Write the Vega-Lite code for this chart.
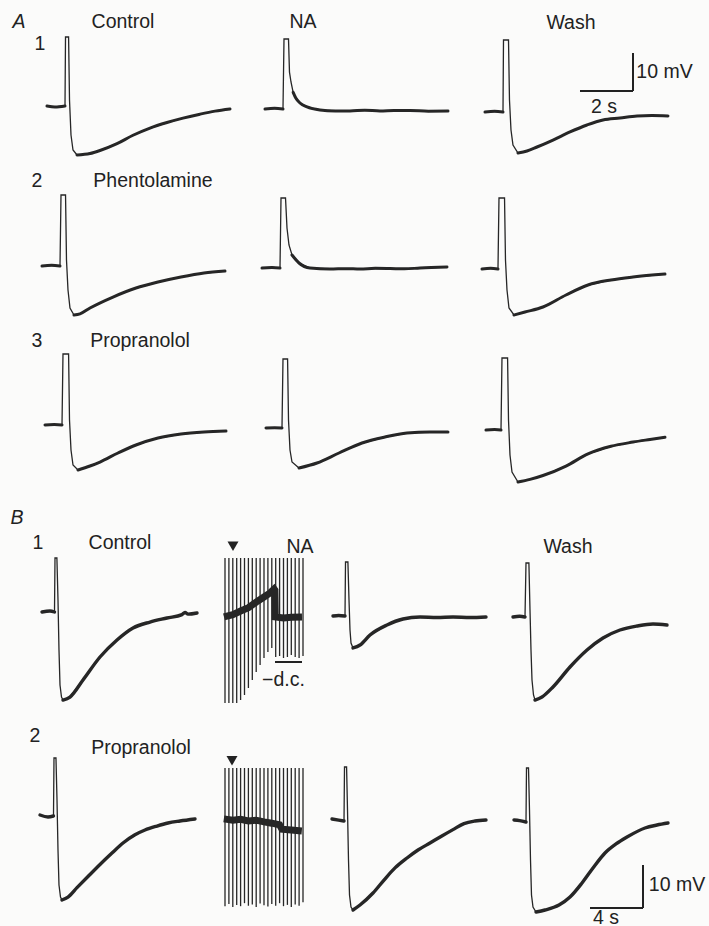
{
"$schema": "https://vega.github.io/schema/vega-lite/v6.json",
"background": "#fbfbfa",
"padding": 0,
"spacing": 0,
"bounds": "full",
"config": {"view": {"stroke": null}},
"datasets": {
"trace": [
{"c":"A1c1","s":"pre","t":0.075,"v":0},{"c":"A1c1","s":"pre","t":0.377,"v":-0.26},{"c":"A1c1","s":"pre","t":0.755,"v":0},
{"c":"A1c1","s":"spike","t":0.774,"v":18.16},{"c":"A1c1","s":"spike","t":0.89,"v":18.16},{"c":"A1c1","s":"spike","t":0.925,"v":1.58},{"c":"A1c1","s":"spike","t":0.981,"v":-7.63},{"c":"A1c1","s":"spike","t":1.057,"v":-11.58},
{"c":"A1c1","s":"post","t":1.208,"v":-12.89},{"c":"A1c1","s":"post","t":1.698,"v":-12.5},{"c":"A1c1","s":"post","t":2.075,"v":-11.7},{"c":"A1c1","s":"post","t":2.717,"v":-9.9},{"c":"A1c1","s":"post","t":3.321,"v":-7.7},{"c":"A1c1","s":"post","t":3.962,"v":-5.8},{"c":"A1c1","s":"post","t":4.604,"v":-4.35},{"c":"A1c1","s":"post","t":5.208,"v":-3.2},{"c":"A1c1","s":"post","t":5.849,"v":-2.15},{"c":"A1c1","s":"post","t":6.415,"v":-1.35},{"c":"A1c1","s":"post","t":6.981,"v":-0.79},

{"c":"A1c2","s":"pre","t":0.038,"v":-0.79},{"c":"A1c2","s":"pre","t":0.4,"v":-0.6},{"c":"A1c2","s":"pre","t":0.717,"v":-0.79},
{"c":"A1c2","s":"spike","t":0.755,"v":17.63},{"c":"A1c2","s":"spike","t":0.925,"v":17.63},{"c":"A1c2","s":"spike","t":0.962,"v":8.9},{"c":"A1c2","s":"spike","t":1.019,"v":6.32},
{"c":"A1c2","s":"post","t":1.1,"v":3.6},{"c":"A1c2","s":"post","t":1.2,"v":2.1},{"c":"A1c2","s":"post","t":1.358,"v":0.79},{"c":"A1c2","s":"post","t":1.623,"v":-0.26},{"c":"A1c2","s":"post","t":2.113,"v":-1.05},{"c":"A1c2","s":"post","t":2.7,"v":-1.3},{"c":"A1c2","s":"post","t":3.245,"v":-1.32},{"c":"A1c2","s":"post","t":3.8,"v":-1.1},{"c":"A1c2","s":"post","t":4.377,"v":-1.32},{"c":"A1c2","s":"post","t":4.9,"v":-1.2},{"c":"A1c2","s":"post","t":5.509,"v":-1.18},{"c":"A1c2","s":"post","t":6.2,"v":-1.35},{"c":"A1c2","s":"post","t":6.943,"v":-1.32},

{"c":"A1c3","s":"pre","t":0.038,"v":-1.58},{"c":"A1c3","s":"pre","t":0.4,"v":-1.4},{"c":"A1c3","s":"pre","t":0.717,"v":-1.58},
{"c":"A1c3","s":"spike","t":0.736,"v":17.37},{"c":"A1c3","s":"spike","t":0.925,"v":17.37},{"c":"A1c3","s":"spike","t":0.962,"v":1.58},{"c":"A1c3","s":"spike","t":1.019,"v":-6.32},{"c":"A1c3","s":"spike","t":1.094,"v":-10.26},
{"c":"A1c3","s":"post","t":1.283,"v":-12.37},{"c":"A1c3","s":"post","t":1.623,"v":-11.84},{"c":"A1c3","s":"post","t":2.0,"v":-10.79},{"c":"A1c3","s":"post","t":2.604,"v":-8.95},{"c":"A1c3","s":"post","t":3.245,"v":-6.84},{"c":"A1c3","s":"post","t":3.887,"v":-5.0},{"c":"A1c3","s":"post","t":4.491,"v":-3.68},{"c":"A1c3","s":"post","t":5.132,"v":-3.16},{"c":"A1c3","s":"post","t":5.774,"v":-2.63},{"c":"A1c3","s":"post","t":6.34,"v":-2.5},{"c":"A1c3","s":"post","t":6.943,"v":-2.63},

{"c":"A2c1","s":"pre","t":-0.113,"v":0},{"c":"A2c1","s":"pre","t":0.25,"v":0.2},{"c":"A2c1","s":"pre","t":0.566,"v":0},
{"c":"A2c1","s":"spike","t":0.604,"v":18.68},{"c":"A2c1","s":"spike","t":0.775,"v":18.68},{"c":"A2c1","s":"spike","t":0.811,"v":1.58},{"c":"A2c1","s":"spike","t":0.868,"v":-6.32},{"c":"A2c1","s":"spike","t":0.943,"v":-11.05},
{"c":"A2c1","s":"post","t":1.094,"v":-12.89},{"c":"A2c1","s":"post","t":1.321,"v":-12.6},{"c":"A2c1","s":"post","t":1.698,"v":-11.05},{"c":"A2c1","s":"post","t":2.566,"v":-8.16},{"c":"A2c1","s":"post","t":3.434,"v":-5.79},{"c":"A2c1","s":"post","t":4.264,"v":-4.21},{"c":"A2c1","s":"post","t":5.132,"v":-2.89},{"c":"A2c1","s":"post","t":6.0,"v":-1.84},{"c":"A2c1","s":"post","t":6.792,"v":-1.32},

{"c":"A2c2","s":"pre","t":-0.075,"v":-0.53},{"c":"A2c2","s":"pre","t":0.3,"v":-0.4},{"c":"A2c2","s":"pre","t":0.604,"v":-0.53},
{"c":"A2c2","s":"spike","t":0.642,"v":17.89},{"c":"A2c2","s":"spike","t":0.812,"v":17.89},{"c":"A2c2","s":"spike","t":0.868,"v":10.0},{"c":"A2c2","s":"spike","t":0.943,"v":5.53},
{"c":"A2c2","s":"post","t":1.057,"v":2.89},{"c":"A2c2","s":"post","t":1.321,"v":0.79},{"c":"A2c2","s":"post","t":1.736,"v":-0.53},{"c":"A2c2","s":"post","t":2.491,"v":-0.79},{"c":"A2c2","s":"post","t":3.1,"v":-0.7},{"c":"A2c2","s":"post","t":3.623,"v":-0.79},{"c":"A2c2","s":"post","t":4.2,"v":-0.6},{"c":"A2c2","s":"post","t":4.755,"v":-0.66},{"c":"A2c2","s":"post","t":5.3,"v":-0.75},{"c":"A2c2","s":"post","t":5.887,"v":-0.53},{"c":"A2c2","s":"post","t":6.906,"v":-0.26},

{"c":"A2c3","s":"pre","t":-0.075,"v":-0.79},{"c":"A2c3","s":"pre","t":0.25,"v":-0.6},{"c":"A2c3","s":"pre","t":0.528,"v":-0.79},
{"c":"A2c3","s":"spike","t":0.566,"v":17.89},{"c":"A2c3","s":"spike","t":0.775,"v":17.89},{"c":"A2c3","s":"spike","t":0.811,"v":1.58},{"c":"A2c3","s":"spike","t":0.868,"v":-6.32},{"c":"A2c3","s":"spike","t":0.943,"v":-11.05},
{"c":"A2c3","s":"post","t":1.132,"v":-12.89},{"c":"A2c3","s":"post","t":1.547,"v":-12.11},{"c":"A2c3","s":"post","t":2.226,"v":-10.79},{"c":"A2c3","s":"post","t":3.094,"v":-7.63},{"c":"A2c3","s":"post","t":3.925,"v":-5.0},{"c":"A2c3","s":"post","t":4.792,"v":-3.68},{"c":"A2c3","s":"post","t":5.623,"v":-2.89},{"c":"A2c3","s":"post","t":6.83,"v":-2.11},

{"c":"A3c1","s":"pre","t":0,"v":0},{"c":"A3c1","s":"pre","t":0.35,"v":0.1},{"c":"A3c1","s":"pre","t":0.642,"v":0},
{"c":"A3c1","s":"spike","t":0.679,"v":18.68},{"c":"A3c1","s":"spike","t":0.89,"v":18.68},{"c":"A3c1","s":"spike","t":0.925,"v":1.32},{"c":"A3c1","s":"spike","t":0.981,"v":-6.58},{"c":"A3c1","s":"spike","t":1.057,"v":-10.53},
{"c":"A3c1","s":"post","t":1.245,"v":-11.84},{"c":"A3c1","s":"post","t":1.698,"v":-10.79},{"c":"A3c1","s":"post","t":2.075,"v":-9.74},{"c":"A3c1","s":"post","t":2.755,"v":-7.37},{"c":"A3c1","s":"post","t":3.434,"v":-5.26},{"c":"A3c1","s":"post","t":4.264,"v":-3.42},{"c":"A3c1","s":"post","t":5.132,"v":-2.37},{"c":"A3c1","s":"post","t":6.0,"v":-1.84},{"c":"A3c1","s":"post","t":6.83,"v":-1.58},

{"c":"A3c2","s":"pre","t":0.075,"v":-0.79},{"c":"A3c2","s":"pre","t":0.4,"v":-0.7},{"c":"A3c2","s":"pre","t":0.679,"v":-0.79},
{"c":"A3c2","s":"spike","t":0.717,"v":17.37},{"c":"A3c2","s":"spike","t":0.89,"v":17.37},{"c":"A3c2","s":"spike","t":0.925,"v":1.32},{"c":"A3c2","s":"spike","t":0.981,"v":-6.58},{"c":"A3c2","s":"spike","t":1.057,"v":-9.74},
{"c":"A3c2","s":"post","t":1.321,"v":-11.32},{"c":"A3c2","s":"post","t":2.0,"v":-10.0},{"c":"A3c2","s":"post","t":2.83,"v":-7.37},{"c":"A3c2","s":"post","t":3.698,"v":-4.74},{"c":"A3c2","s":"post","t":4.566,"v":-3.16},{"c":"A3c2","s":"post","t":5.396,"v":-2.11},{"c":"A3c2","s":"post","t":6.264,"v":-1.84},{"c":"A3c2","s":"post","t":6.943,"v":-1.84},

{"c":"A3c3","s":"pre","t":0.075,"v":-1.32},{"c":"A3c3","s":"pre","t":0.4,"v":-1.2},{"c":"A3c3","s":"pre","t":0.642,"v":-1.32},
{"c":"A3c3","s":"spike","t":0.679,"v":17.63},{"c":"A3c3","s":"spike","t":0.89,"v":17.63},{"c":"A3c3","s":"spike","t":0.925,"v":1.32},{"c":"A3c3","s":"spike","t":0.981,"v":-7.89},{"c":"A3c3","s":"spike","t":1.057,"v":-12.37},
{"c":"A3c3","s":"post","t":1.283,"v":-15.0},{"c":"A3c3","s":"post","t":1.736,"v":-14.3},{"c":"A3c3","s":"post","t":2.226,"v":-13.3},{"c":"A3c3","s":"post","t":3.094,"v":-10.8},{"c":"A3c3","s":"post","t":3.925,"v":-7.6},{"c":"A3c3","s":"post","t":4.792,"v":-5.6},{"c":"A3c3","s":"post","t":5.623,"v":-4.5},{"c":"A3c3","s":"post","t":6.264,"v":-3.8},{"c":"A3c3","s":"post","t":6.83,"v":-3.2},

{"c":"B1c1","s":"pre","t":0.075,"v":0},{"c":"B1c1","s":"pre","t":0.679,"v":0.23},{"c":"B1c1","s":"pre","t":1.019,"v":0},
{"c":"B1c1","s":"spike","t":1.057,"v":12.56},{"c":"B1c1","s":"spike","t":1.2,"v":12.56},{"c":"B1c1","s":"spike","t":1.283,"v":2.79},{"c":"B1c1","s":"spike","t":1.358,"v":-8.84},{"c":"B1c1","s":"spike","t":1.434,"v":-16.98},{"c":"B1c1","s":"spike","t":1.547,"v":-19.77},
{"c":"B1c1","s":"post","t":1.66,"v":-20.47},{"c":"B1c1","s":"post","t":2.189,"v":-19.77},{"c":"B1c1","s":"post","t":3.17,"v":-15.81},{"c":"B1c1","s":"post","t":4.453,"v":-10.47},{"c":"B1c1","s":"post","t":5.736,"v":-6.51},{"c":"B1c1","s":"post","t":6.943,"v":-3.72},{"c":"B1c1","s":"post","t":8.226,"v":-2.33},{"c":"B1c1","s":"post","t":9.509,"v":-1.4},{"c":"B1c1","s":"post","t":10.642,"v":-0.6},{"c":"B1c1","s":"post","t":10.868,"v":-0.1},{"c":"B1c1","s":"post","t":11.094,"v":-0.5},{"c":"B1c1","s":"post","t":11.774,"v":-0.23},

{"c":"B1c2","s":"band","t":-0.26,"v":-1.16},{"c":"B1c2","s":"band","t":2,"v":-0.6},{"c":"B1c2","s":"band","t":4,"v":0.23},{"c":"B1c2","s":"band","t":6,"v":1.0},{"c":"B1c2","s":"band","t":8,"v":2.3},{"c":"B1c2","s":"band","t":10,"v":3.5},{"c":"B1c2","s":"band","t":11.5,"v":4.4},{"c":"B1c2","s":"band","t":12.6,"v":5.35},{"c":"B1c2","s":"band","t":12.8,"v":5.1},{"c":"B1c2","s":"band","t":12.9,"v":-1.16},{"c":"B1c2","s":"band","t":15,"v":-1.4},{"c":"B1c2","s":"band","t":17,"v":-1.2},{"c":"B1c2","s":"band","t":19.74,"v":-1.16},

{"c":"B1c3","s":"pre","t":0.075,"v":-0.93},{"c":"B1c3","s":"pre","t":0.5,"v":-0.8},{"c":"B1c3","s":"pre","t":0.981,"v":-0.93},
{"c":"B1c3","s":"spike","t":1.019,"v":11.63},{"c":"B1c3","s":"spike","t":1.2,"v":11.63},{"c":"B1c3","s":"spike","t":1.283,"v":2.79},{"c":"B1c3","s":"spike","t":1.358,"v":-4.19},{"c":"B1c3","s":"spike","t":1.434,"v":-7.21},
{"c":"B1c3","s":"post","t":1.585,"v":-8.37},{"c":"B1c3","s":"post","t":2.113,"v":-7.67},{"c":"B1c3","s":"post","t":2.868,"v":-5.35},{"c":"B1c3","s":"post","t":4.151,"v":-3.02},{"c":"B1c3","s":"post","t":5.358,"v":-1.63},{"c":"B1c3","s":"post","t":6.642,"v":-1.16},{"c":"B1c3","s":"post","t":7.925,"v":-1.28},{"c":"B1c3","s":"post","t":9.132,"v":-1.16},{"c":"B1c3","s":"post","t":10.415,"v":-1.28},{"c":"B1c3","s":"post","t":11.623,"v":-1.16},

{"c":"B1c4","s":"pre","t":0,"v":-1.16},{"c":"B1c4","s":"pre","t":0.5,"v":-1.0},{"c":"B1c4","s":"pre","t":0.906,"v":-1.16},
{"c":"B1c4","s":"spike","t":0.981,"v":11.4},{"c":"B1c4","s":"spike","t":1.2,"v":11.4},{"c":"B1c4","s":"spike","t":1.283,"v":0.47},{"c":"B1c4","s":"spike","t":1.358,"v":-8.84},{"c":"B1c4","s":"spike","t":1.434,"v":-15.81},{"c":"B1c4","s":"spike","t":1.547,"v":-19.3},
{"c":"B1c4","s":"post","t":1.66,"v":-20.47},{"c":"B1c4","s":"post","t":2.189,"v":-19.77},{"c":"B1c4","s":"post","t":3.019,"v":-17.44},{"c":"B1c4","s":"post","t":4.302,"v":-12.79},{"c":"B1c4","s":"post","t":5.585,"v":-8.84},{"c":"B1c4","s":"post","t":6.792,"v":-6.05},{"c":"B1c4","s":"post","t":8.075,"v":-4.19},{"c":"B1c4","s":"post","t":9.358,"v":-3.26},{"c":"B1c4","s":"post","t":10.566,"v":-2.79},{"c":"B1c4","s":"post","t":11.623,"v":-3.02},

{"c":"B2c1","s":"pre","t":-0.075,"v":0},{"c":"B2c1","s":"pre","t":0.528,"v":-0.47},{"c":"B2c1","s":"pre","t":0.943,"v":-0.23},
{"c":"B2c1","s":"spike","t":0.981,"v":13.26},{"c":"B2c1","s":"spike","t":1.13,"v":13.26},{"c":"B2c1","s":"spike","t":1.208,"v":3.49},{"c":"B2c1","s":"spike","t":1.283,"v":-8.14},{"c":"B2c1","s":"spike","t":1.358,"v":-16.28},{"c":"B2c1","s":"spike","t":1.472,"v":-19.07},
{"c":"B2c1","s":"post","t":1.585,"v":-19.77},{"c":"B2c1","s":"post","t":2.038,"v":-19.07},{"c":"B2c1","s":"post","t":2.717,"v":-16.9},{"c":"B2c1","s":"post","t":3.547,"v":-14.3},{"c":"B2c1","s":"post","t":4.453,"v":-11.5},{"c":"B2c1","s":"post","t":5.358,"v":-8.84},{"c":"B2c1","s":"post","t":6.189,"v":-6.51},{"c":"B2c1","s":"post","t":7.094,"v":-4.6},{"c":"B2c1","s":"post","t":7.849,"v":-3.49},{"c":"B2c1","s":"post","t":8.755,"v":-2.56},{"c":"B2c1","s":"post","t":9.585,"v":-1.86},{"c":"B2c1","s":"post","t":10.491,"v":-1.4},{"c":"B2c1","s":"post","t":11.623,"v":-0.93},

{"c":"B2c2","s":"band","t":-0.3,"v":-0.9},{"c":"B2c2","s":"band","t":2,"v":-1.2},{"c":"B2c2","s":"band","t":4,"v":-1.0},{"c":"B2c2","s":"band","t":6,"v":-1.4},{"c":"B2c2","s":"band","t":8,"v":-1.2},{"c":"B2c2","s":"band","t":10,"v":-1.6},{"c":"B2c2","s":"band","t":12,"v":-1.9},{"c":"B2c2","s":"band","t":14,"v":-2.3},{"c":"B2c2","s":"band","t":14.6,"v":-3.3},{"c":"B2c2","s":"band","t":17,"v":-3.5},{"c":"B2c2","s":"band","t":19.7,"v":-3.7},

{"c":"B2c3","s":"pre","t":0,"v":-0.93},{"c":"B2c3","s":"pre","t":0.5,"v":-1.2},{"c":"B2c3","s":"pre","t":0.906,"v":-1.4},
{"c":"B2c3","s":"spike","t":0.943,"v":11.16},{"c":"B2c3","s":"spike","t":1.1,"v":11.16},{"c":"B2c3","s":"spike","t":1.17,"v":1.16},{"c":"B2c3","s":"spike","t":1.245,"v":-10.47},{"c":"B2c3","s":"spike","t":1.321,"v":-18.6},{"c":"B2c3","s":"spike","t":1.434,"v":-21.4},
{"c":"B2c3","s":"post","t":1.585,"v":-22.09},{"c":"B2c3","s":"post","t":2.113,"v":-20.93},{"c":"B2c3","s":"post","t":3.094,"v":-18.14},{"c":"B2c3","s":"post","t":3.925,"v":-15.12},{"c":"B2c3","s":"post","t":4.755,"v":-12.3},{"c":"B2c3","s":"post","t":5.66,"v":-10.0},{"c":"B2c3","s":"post","t":6.491,"v":-8.14},{"c":"B2c3","s":"post","t":7.396,"v":-6.51},{"c":"B2c3","s":"post","t":8.226,"v":-5.0},{"c":"B2c3","s":"post","t":9.132,"v":-3.4},{"c":"B2c3","s":"post","t":9.962,"v":-2.0},{"c":"B2c3","s":"post","t":10.792,"v":-1.4},{"c":"B2c3","s":"post","t":11.623,"v":-1.16},

{"c":"B2c4","s":"pre","t":0.075,"v":-1.16},{"c":"B2c4","s":"pre","t":0.5,"v":-1.3},{"c":"B2c4","s":"pre","t":0.981,"v":-1.63},
{"c":"B2c4","s":"spike","t":1.019,"v":10.93},{"c":"B2c4","s":"spike","t":1.17,"v":10.93},{"c":"B2c4","s":"spike","t":1.245,"v":1.16},{"c":"B2c4","s":"spike","t":1.321,"v":-10.47},{"c":"B2c4","s":"spike","t":1.396,"v":-18.6},{"c":"B2c4","s":"spike","t":1.509,"v":-21.4},
{"c":"B2c4","s":"post","t":1.736,"v":-22.56},{"c":"B2c4","s":"post","t":2.415,"v":-22.09},{"c":"B2c4","s":"post","t":3.472,"v":-20.93},{"c":"B2c4","s":"post","t":4.302,"v":-19.07},{"c":"B2c4","s":"post","t":5.208,"v":-15.81},{"c":"B2c4","s":"post","t":6.038,"v":-12.33},{"c":"B2c4","s":"post","t":6.943,"v":-8.84},{"c":"B2c4","s":"post","t":7.774,"v":-6.74},{"c":"B2c4","s":"post","t":8.604,"v":-5.12},{"c":"B2c4","s":"post","t":9.962,"v":-3.02},{"c":"B2c4","s":"post","t":10.868,"v":-2.33},{"c":"B2c4","s":"post","t":11.698,"v":-1.86}
],
"stim": [
{"c":"B1c2","t":0,"v":-21.16,"v2":12.56},{"c":"B1c2","t":1,"v":-21.16,"v2":12.56},{"c":"B1c2","t":2,"v":-21.16,"v2":12.56},{"c":"B1c2","t":3,"v":-21.16,"v2":12.56},{"c":"B1c2","t":4,"v":-20.47,"v2":12.56},{"c":"B1c2","t":5,"v":-19.3,"v2":12.56},{"c":"B1c2","t":6,"v":-17.67,"v2":12.56},{"c":"B1c2","t":7,"v":-15.81,"v2":12.56},{"c":"B1c2","t":8,"v":-13.95,"v2":12.56},{"c":"B1c2","t":9,"v":-12.33,"v2":12.56},{"c":"B1c2","t":10,"v":-10.7,"v2":12.56},{"c":"B1c2","t":11,"v":-9.3,"v2":12.56},{"c":"B1c2","t":12,"v":-8.37,"v2":12.56},{"c":"B1c2","t":13,"v":-10.47,"v2":12.56},{"c":"B1c2","t":14,"v":-10.23,"v2":12.56},{"c":"B1c2","t":15,"v":-10.7,"v2":12.56},{"c":"B1c2","t":16,"v":-10.47,"v2":12.56},{"c":"B1c2","t":17,"v":-10.0,"v2":12.56},{"c":"B1c2","t":18,"v":-10.47,"v2":12.56},{"c":"B1c2","t":19,"v":-10.7,"v2":12.56},{"c":"B1c2","t":20,"v":-10.23,"v2":12.56},
{"c":"B2c2","t":0,"v":-21.2,"v2":10.93},{"c":"B2c2","t":1,"v":-20.7,"v2":10.93},{"c":"B2c2","t":2,"v":-21.4,"v2":10.93},{"c":"B2c2","t":3,"v":-20.9,"v2":10.93},{"c":"B2c2","t":4,"v":-21.2,"v2":10.93},{"c":"B2c2","t":5,"v":-20.5,"v2":10.93},{"c":"B2c2","t":6,"v":-21.1,"v2":10.93},{"c":"B2c2","t":7,"v":-20.8,"v2":10.93},{"c":"B2c2","t":8,"v":-21.4,"v2":10.93},{"c":"B2c2","t":9,"v":-20.6,"v2":10.93},{"c":"B2c2","t":10,"v":-21.0,"v2":10.93},{"c":"B2c2","t":11,"v":-21.3,"v2":10.93},{"c":"B2c2","t":12,"v":-20.7,"v2":10.93},{"c":"B2c2","t":13,"v":-21.1,"v2":10.93},{"c":"B2c2","t":14,"v":-20.5,"v2":10.93},{"c":"B2c2","t":15,"v":-21.2,"v2":10.93},{"c":"B2c2","t":16,"v":-20.9,"v2":10.93},{"c":"B2c2","t":17,"v":-21.4,"v2":10.93},{"c":"B2c2","t":18,"v":-20.8,"v2":10.93},{"c":"B2c2","t":19,"v":-21.1,"v2":10.93},{"c":"B2c2","t":20,"v":-20.3,"v2":10.93}
],
"labels": [
{"c":"A1c1","k":"it","t":-0.981,"v":22.1,"label":"A"},
{"c":"A1c1","k":"reg","t":-0.189,"v":16.32,"label":"1"},
{"c":"A1c1","k":"reg","t":2.943,"v":22.1,"label":"Control"},
{"c":"A1c2","k":"reg","t":1.472,"v":22.1,"label":"NA"},
{"c":"A1c3","k":"reg","t":3.283,"v":21.84,"label":"Wash"},
{"c":"A1c3","k":"reg","t":6.811,"v":8.95,"label":"10 mV"},
{"c":"A1c3","k":"reg","t":4.528,"v":-0.26,"label":"2 s"},
{"c":"A2c1","k":"reg","t":-0.302,"v":22.4,"label":"2"},
{"c":"A2c1","k":"reg","t":4.075,"v":22.4,"label":"Phentolamine"},
{"c":"A3c1","k":"reg","t":-0.302,"v":22.1,"label":"3"},
{"c":"A3c1","k":"reg","t":3.585,"v":22.1,"label":"Propranolol"},
{"c":"B1c1","k":"it","t":-1.811,"v":21.86,"label":"B"},
{"c":"B1c1","k":"reg","t":-0.226,"v":16.05,"label":"1"},
{"c":"B1c1","k":"reg","t":5.962,"v":16.05,"label":"Control"},
{"c":"B1c2","k":"reg","t":19.23,"v":15.1,"label":"NA"},
{"c":"B1c2","k":"reg","t":14.99,"v":-15.81,"label":"\u2212d.c."},
{"c":"B1c4","k":"reg","t":4.151,"v":15.12,"label":"Wash"},
{"c":"B2c1","k":"reg","t":-0.453,"v":18.3,"label":"2"},
{"c":"B2c1","k":"reg","t":7.547,"v":15.58,"label":"Propranolol"},
{"c":"B2c4","k":"reg","t":12.377,"v":-16.28,"label":"10 mV"},
{"c":"B2c4","k":"reg","t":7.019,"v":-23.9,"label":"4 s"}
],
"bars": [
{"c":"A1c3","t":5.623,"v":3.95,"t2":5.623,"v2":13.95},
{"c":"A1c3","t":3.623,"v":3.95,"t2":5.623,"v2":3.95},
{"c":"B2c4","t":9.811,"v":-21.63,"t2":9.811,"v2":-11.63},
{"c":"B2c4","t":5.811,"v":-21.63,"t2":9.811,"v2":-21.63},
{"c":"B1c2","t":12.82,"v":-11.63,"t2":19.74,"v2":-11.63}
],
"arrows": [
{"c":"B1c2","t":2.05,"v":15.3},
{"c":"B2c2","t":1.795,"v":12.6}
]
},
"vconcat": [
{"hconcat": [
{"width":250,"height":170,
"encoding":{"x":{"field":"t","type":"quantitative","axis":null,"scale":{"domain":[-1.698,7.736],"nice":false,"zero":false}},"y":{"field":"v","type":"quantitative","axis":null,"scale":{"domain":[-16.84,27.89],"nice":false,"zero":false}}},
"layer":[
{"data":{"name":"trace"},"transform":[{"filter":"datum.c==='A1c1'"}],"mark":{"type":"line","color":"#262626","strokeWidth":1.3}},
{"data":{"name":"trace"},"transform":[{"filter":"datum.c==='A1c1' && datum.s!=='spike'"}],"mark":{"type":"line","color":"#262626","strokeWidth":3,"strokeCap":"round","strokeJoin":"round","interpolate":"monotone"},"encoding":{"detail":{"field":"s"}}},
{"data":{"name":"labels"},"transform":[{"filter":"datum.c==='A1c1' && datum.k==='reg'"}],"mark":{"type":"text","font":"Liberation Sans","fontSize":19.5,"color":"#222","align":"center","baseline":"middle"},"encoding":{"text":{"field":"label"}}},
{"data":{"name":"labels"},"transform":[{"filter":"datum.c==='A1c1' && datum.k==='it'"}],"mark":{"type":"text","font":"Liberation Sans","fontSize":19.5,"fontStyle":"italic","color":"#222","align":"center","baseline":"middle"},"encoding":{"text":{"field":"label"}}}
]},
{"width":220,"height":170,
"encoding":{"x":{"field":"t","type":"quantitative","axis":null,"scale":{"domain":[-0.528,7.774],"nice":false,"zero":false}},"y":{"field":"v","type":"quantitative","axis":null,"scale":{"domain":[-16.84,27.89],"nice":false,"zero":false}}},
"layer":[
{"data":{"name":"trace"},"transform":[{"filter":"datum.c==='A1c2'"}],"mark":{"type":"line","color":"#262626","strokeWidth":1.3}},
{"data":{"name":"trace"},"transform":[{"filter":"datum.c==='A1c2' && datum.s!=='spike'"}],"mark":{"type":"line","color":"#262626","strokeWidth":3,"strokeCap":"round","strokeJoin":"round","interpolate":"monotone"},"encoding":{"detail":{"field":"s"}}},
{"data":{"name":"labels"},"transform":[{"filter":"datum.c==='A1c2' && datum.k==='reg'"}],"mark":{"type":"text","font":"Liberation Sans","fontSize":19.5,"color":"#222","align":"center","baseline":"middle"},"encoding":{"text":{"field":"label"}}}
]},
{"width":239,"height":170,
"encoding":{"x":{"field":"t","type":"quantitative","axis":null,"scale":{"domain":[-0.528,8.491],"nice":false,"zero":false}},"y":{"field":"v","type":"quantitative","axis":null,"scale":{"domain":[-16.84,27.89],"nice":false,"zero":false}}},
"layer":[
{"data":{"name":"trace"},"transform":[{"filter":"datum.c==='A1c3'"}],"mark":{"type":"line","color":"#262626","strokeWidth":1.3}},
{"data":{"name":"trace"},"transform":[{"filter":"datum.c==='A1c3' && datum.s!=='spike'"}],"mark":{"type":"line","color":"#262626","strokeWidth":3,"strokeCap":"round","strokeJoin":"round","interpolate":"monotone"},"encoding":{"detail":{"field":"s"}}},
{"data":{"name":"bars"},"transform":[{"filter":"datum.c==='A1c3'"}],"mark":{"type":"rule","color":"#222","strokeWidth":2},"encoding":{"x2":{"field":"t2"},"y2":{"field":"v2"}}},
{"data":{"name":"labels"},"transform":[{"filter":"datum.c==='A1c3' && datum.k==='reg'"}],"mark":{"type":"text","font":"Liberation Sans","fontSize":19.5,"color":"#222","align":"center","baseline":"middle"},"encoding":{"text":{"field":"label"}}}
]}
], "spacing":0, "bounds":"flush"},
{"hconcat": [
{"width":250,"height":160,
"encoding":{"x":{"field":"t","type":"quantitative","axis":null,"scale":{"domain":[-1.698,7.736],"nice":false,"zero":false}},"y":{"field":"v","type":"quantitative","axis":null,"scale":{"domain":[-16.84,25.26],"nice":false,"zero":false}}},
"layer":[
{"data":{"name":"trace"},"transform":[{"filter":"datum.c==='A2c1'"}],"mark":{"type":"line","color":"#262626","strokeWidth":1.3}},
{"data":{"name":"trace"},"transform":[{"filter":"datum.c==='A2c1' && datum.s!=='spike'"}],"mark":{"type":"line","color":"#262626","strokeWidth":3,"strokeCap":"round","strokeJoin":"round","interpolate":"monotone"},"encoding":{"detail":{"field":"s"}}},
{"data":{"name":"labels"},"transform":[{"filter":"datum.c==='A2c1' && datum.k==='reg'"}],"mark":{"type":"text","font":"Liberation Sans","fontSize":19.5,"color":"#222","align":"center","baseline":"middle"},"encoding":{"text":{"field":"label"}}}
]},
{"width":220,"height":160,
"encoding":{"x":{"field":"t","type":"quantitative","axis":null,"scale":{"domain":[-0.528,7.774],"nice":false,"zero":false}},"y":{"field":"v","type":"quantitative","axis":null,"scale":{"domain":[-16.84,25.26],"nice":false,"zero":false}}},
"layer":[
{"data":{"name":"trace"},"transform":[{"filter":"datum.c==='A2c2'"}],"mark":{"type":"line","color":"#262626","strokeWidth":1.3}},
{"data":{"name":"trace"},"transform":[{"filter":"datum.c==='A2c2' && datum.s!=='spike'"}],"mark":{"type":"line","color":"#262626","strokeWidth":3,"strokeCap":"round","strokeJoin":"round","interpolate":"monotone"},"encoding":{"detail":{"field":"s"}}}
]},
{"width":239,"height":160,
"encoding":{"x":{"field":"t","type":"quantitative","axis":null,"scale":{"domain":[-0.528,8.491],"nice":false,"zero":false}},"y":{"field":"v","type":"quantitative","axis":null,"scale":{"domain":[-16.84,25.26],"nice":false,"zero":false}}},
"layer":[
{"data":{"name":"trace"},"transform":[{"filter":"datum.c==='A2c3'"}],"mark":{"type":"line","color":"#262626","strokeWidth":1.3}},
{"data":{"name":"trace"},"transform":[{"filter":"datum.c==='A2c3' && datum.s!=='spike'"}],"mark":{"type":"line","color":"#262626","strokeWidth":3,"strokeCap":"round","strokeJoin":"round","interpolate":"monotone"},"encoding":{"detail":{"field":"s"}}}
]}
], "spacing":0, "bounds":"flush"},
{"hconcat": [
{"width":250,"height":170,
"encoding":{"x":{"field":"t","type":"quantitative","axis":null,"scale":{"domain":[-1.698,7.736],"nice":false,"zero":false}},"y":{"field":"v","type":"quantitative","axis":null,"scale":{"domain":[-19.74,25.0],"nice":false,"zero":false}}},
"layer":[
{"data":{"name":"trace"},"transform":[{"filter":"datum.c==='A3c1'"}],"mark":{"type":"line","color":"#262626","strokeWidth":1.3}},
{"data":{"name":"trace"},"transform":[{"filter":"datum.c==='A3c1' && datum.s!=='spike'"}],"mark":{"type":"line","color":"#262626","strokeWidth":3,"strokeCap":"round","strokeJoin":"round","interpolate":"monotone"},"encoding":{"detail":{"field":"s"}}},
{"data":{"name":"labels"},"transform":[{"filter":"datum.c==='A3c1' && datum.k==='reg'"}],"mark":{"type":"text","font":"Liberation Sans","fontSize":19.5,"color":"#222","align":"center","baseline":"middle"},"encoding":{"text":{"field":"label"}}}
]},
{"width":220,"height":170,
"encoding":{"x":{"field":"t","type":"quantitative","axis":null,"scale":{"domain":[-0.528,7.774],"nice":false,"zero":false}},"y":{"field":"v","type":"quantitative","axis":null,"scale":{"domain":[-19.74,25.0],"nice":false,"zero":false}}},
"layer":[
{"data":{"name":"trace"},"transform":[{"filter":"datum.c==='A3c2'"}],"mark":{"type":"line","color":"#262626","strokeWidth":1.3}},
{"data":{"name":"trace"},"transform":[{"filter":"datum.c==='A3c2' && datum.s!=='spike'"}],"mark":{"type":"line","color":"#262626","strokeWidth":3,"strokeCap":"round","strokeJoin":"round","interpolate":"monotone"},"encoding":{"detail":{"field":"s"}}}
]},
{"width":239,"height":170,
"encoding":{"x":{"field":"t","type":"quantitative","axis":null,"scale":{"domain":[-0.528,8.491],"nice":false,"zero":false}},"y":{"field":"v","type":"quantitative","axis":null,"scale":{"domain":[-19.74,25.0],"nice":false,"zero":false}}},
"layer":[
{"data":{"name":"trace"},"transform":[{"filter":"datum.c==='A3c3'"}],"mark":{"type":"line","color":"#262626","strokeWidth":1.3}},
{"data":{"name":"trace"},"transform":[{"filter":"datum.c==='A3c3' && datum.s!=='spike'"}],"mark":{"type":"line","color":"#262626","strokeWidth":3,"strokeCap":"round","strokeJoin":"round","interpolate":"monotone"},"encoding":{"detail":{"field":"s"}}}
]}
], "spacing":0, "bounds":"flush"},
{"hconcat": [
{"width":215,"height":225,
"encoding":{"x":{"field":"t","type":"quantitative","axis":null,"scale":{"domain":[-3.094,13.132],"nice":false,"zero":false}},"y":{"field":"v","type":"quantitative","axis":null,"scale":{"domain":[-26.28,26.05],"nice":false,"zero":false}}},
"layer":[
{"data":{"name":"trace"},"transform":[{"filter":"datum.c==='B1c1'"}],"mark":{"type":"line","color":"#262626","strokeWidth":1.3}},
{"data":{"name":"trace"},"transform":[{"filter":"datum.c==='B1c1' && datum.s!=='spike'"}],"mark":{"type":"line","color":"#262626","strokeWidth":3.4,"strokeCap":"round","strokeJoin":"round","interpolate":"monotone"},"encoding":{"detail":{"field":"s"}}},
{"data":{"name":"labels"},"transform":[{"filter":"datum.c==='B1c1' && datum.k==='reg'"}],"mark":{"type":"text","font":"Liberation Sans","fontSize":19.5,"color":"#222","align":"center","baseline":"middle"},"encoding":{"text":{"field":"label"}}},
{"data":{"name":"labels"},"transform":[{"filter":"datum.c==='B1c1' && datum.k==='it'"}],"mark":{"type":"text","font":"Liberation Sans","fontSize":19.5,"fontStyle":"italic","color":"#222","align":"center","baseline":"middle"},"encoding":{"text":{"field":"label"}}}
]},
{"width":105,"height":225,
"encoding":{"x":{"field":"t","type":"quantitative","axis":null,"scale":{"domain":[-2.564,24.359],"nice":false,"zero":false}},"y":{"field":"v","type":"quantitative","axis":null,"scale":{"domain":[-26.28,26.05],"nice":false,"zero":false}}},
"layer":[
{"data":{"name":"stim"},"transform":[{"filter":"datum.c==='B1c2'"}],"mark":{"type":"rule","color":"#262626","strokeWidth":1.3},"encoding":{"y2":{"field":"v2"}}},
{"data":{"name":"trace"},"transform":[{"filter":"datum.c==='B1c2'"}],"mark":{"type":"line","color":"#262626","strokeWidth":7}},
{"data":{"name":"bars"},"transform":[{"filter":"datum.c==='B1c2'"}],"mark":{"type":"rule","color":"#222","strokeWidth":2},"encoding":{"x2":{"field":"t2"},"y2":{"field":"v2"}}},
{"data":{"name":"arrows"},"transform":[{"filter":"datum.c==='B1c2'"}],"mark":{"type":"point","shape":"triangle-down","filled":true,"size":120,"color":"#222","opacity":1}},
{"data":{"name":"labels"},"transform":[{"filter":"datum.c==='B1c2' && datum.k==='reg'"}],"mark":{"type":"text","font":"Liberation Sans","fontSize":19.5,"color":"#222","align":"center","baseline":"middle"},"encoding":{"text":{"field":"label"}}}
]},
{"width":180,"height":225,
"encoding":{"x":{"field":"t","type":"quantitative","axis":null,"scale":{"domain":[-0.906,12.679],"nice":false,"zero":false}},"y":{"field":"v","type":"quantitative","axis":null,"scale":{"domain":[-26.28,26.05],"nice":false,"zero":false}}},
"layer":[
{"data":{"name":"trace"},"transform":[{"filter":"datum.c==='B1c3'"}],"mark":{"type":"line","color":"#262626","strokeWidth":1.3}},
{"data":{"name":"trace"},"transform":[{"filter":"datum.c==='B1c3' && datum.s!=='spike'"}],"mark":{"type":"line","color":"#262626","strokeWidth":3.4,"strokeCap":"round","strokeJoin":"round","interpolate":"monotone"},"encoding":{"detail":{"field":"s"}}}
]},
{"width":209,"height":225,
"encoding":{"x":{"field":"t","type":"quantitative","axis":null,"scale":{"domain":[-0.981,14.792],"nice":false,"zero":false}},"y":{"field":"v","type":"quantitative","axis":null,"scale":{"domain":[-26.28,26.05],"nice":false,"zero":false}}},
"layer":[
{"data":{"name":"trace"},"transform":[{"filter":"datum.c==='B1c4'"}],"mark":{"type":"line","color":"#262626","strokeWidth":1.3}},
{"data":{"name":"trace"},"transform":[{"filter":"datum.c==='B1c4' && datum.s!=='spike'"}],"mark":{"type":"line","color":"#262626","strokeWidth":3.4,"strokeCap":"round","strokeJoin":"round","interpolate":"monotone"},"encoding":{"detail":{"field":"s"}}},
{"data":{"name":"labels"},"transform":[{"filter":"datum.c==='B1c4' && datum.k==='reg'"}],"mark":{"type":"text","font":"Liberation Sans","fontSize":19.5,"color":"#222","align":"center","baseline":"middle"},"encoding":{"text":{"field":"label"}}}
]}
], "spacing":0, "bounds":"flush"},
{"hconcat": [
{"width":215,"height":201,
"encoding":{"x":{"field":"t","type":"quantitative","axis":null,"scale":{"domain":[-3.094,13.132],"nice":false,"zero":false}},"y":{"field":"v","type":"quantitative","axis":null,"scale":{"domain":[-25.81,20.93],"nice":false,"zero":false}}},
"layer":[
{"data":{"name":"trace"},"transform":[{"filter":"datum.c==='B2c1'"}],"mark":{"type":"line","color":"#262626","strokeWidth":1.3}},
{"data":{"name":"trace"},"transform":[{"filter":"datum.c==='B2c1' && datum.s!=='spike'"}],"mark":{"type":"line","color":"#262626","strokeWidth":3.4,"strokeCap":"round","strokeJoin":"round","interpolate":"monotone"},"encoding":{"detail":{"field":"s"}}},
{"data":{"name":"labels"},"transform":[{"filter":"datum.c==='B2c1' && datum.k==='reg'"}],"mark":{"type":"text","font":"Liberation Sans","fontSize":19.5,"color":"#222","align":"center","baseline":"middle"},"encoding":{"text":{"field":"label"}}}
]},
{"width":105,"height":201,
"encoding":{"x":{"field":"t","type":"quantitative","axis":null,"scale":{"domain":[-2.564,24.359],"nice":false,"zero":false}},"y":{"field":"v","type":"quantitative","axis":null,"scale":{"domain":[-25.81,20.93],"nice":false,"zero":false}}},
"layer":[
{"data":{"name":"stim"},"transform":[{"filter":"datum.c==='B2c2'"}],"mark":{"type":"rule","color":"#262626","strokeWidth":1.3},"encoding":{"y2":{"field":"v2"}}},
{"data":{"name":"trace"},"transform":[{"filter":"datum.c==='B2c2'"}],"mark":{"type":"line","color":"#262626","strokeWidth":7}},
{"data":{"name":"arrows"},"transform":[{"filter":"datum.c==='B2c2'"}],"mark":{"type":"point","shape":"triangle-down","filled":true,"size":120,"color":"#222","opacity":1}}
]},
{"width":180,"height":201,
"encoding":{"x":{"field":"t","type":"quantitative","axis":null,"scale":{"domain":[-0.906,12.679],"nice":false,"zero":false}},"y":{"field":"v","type":"quantitative","axis":null,"scale":{"domain":[-25.81,20.93],"nice":false,"zero":false}}},
"layer":[
{"data":{"name":"trace"},"transform":[{"filter":"datum.c==='B2c3'"}],"mark":{"type":"line","color":"#262626","strokeWidth":1.3}},
{"data":{"name":"trace"},"transform":[{"filter":"datum.c==='B2c3' && datum.s!=='spike'"}],"mark":{"type":"line","color":"#262626","strokeWidth":3.4,"strokeCap":"round","strokeJoin":"round","interpolate":"monotone"},"encoding":{"detail":{"field":"s"}}}
]},
{"width":209,"height":201,
"encoding":{"x":{"field":"t","type":"quantitative","axis":null,"scale":{"domain":[-0.981,14.792],"nice":false,"zero":false}},"y":{"field":"v","type":"quantitative","axis":null,"scale":{"domain":[-25.81,20.93],"nice":false,"zero":false}}},
"layer":[
{"data":{"name":"trace"},"transform":[{"filter":"datum.c==='B2c4'"}],"mark":{"type":"line","color":"#262626","strokeWidth":1.3}},
{"data":{"name":"trace"},"transform":[{"filter":"datum.c==='B2c4' && datum.s!=='spike'"}],"mark":{"type":"line","color":"#262626","strokeWidth":3.4,"strokeCap":"round","strokeJoin":"round","interpolate":"monotone"},"encoding":{"detail":{"field":"s"}}},
{"data":{"name":"bars"},"transform":[{"filter":"datum.c==='B2c4'"}],"mark":{"type":"rule","color":"#222","strokeWidth":2},"encoding":{"x2":{"field":"t2"},"y2":{"field":"v2"}}},
{"data":{"name":"labels"},"transform":[{"filter":"datum.c==='B2c4' && datum.k==='reg'"}],"mark":{"type":"text","font":"Liberation Sans","fontSize":19.5,"color":"#222","align":"center","baseline":"middle"},"encoding":{"text":{"field":"label"}}}
]}
], "spacing":0, "bounds":"flush"}
]
}
